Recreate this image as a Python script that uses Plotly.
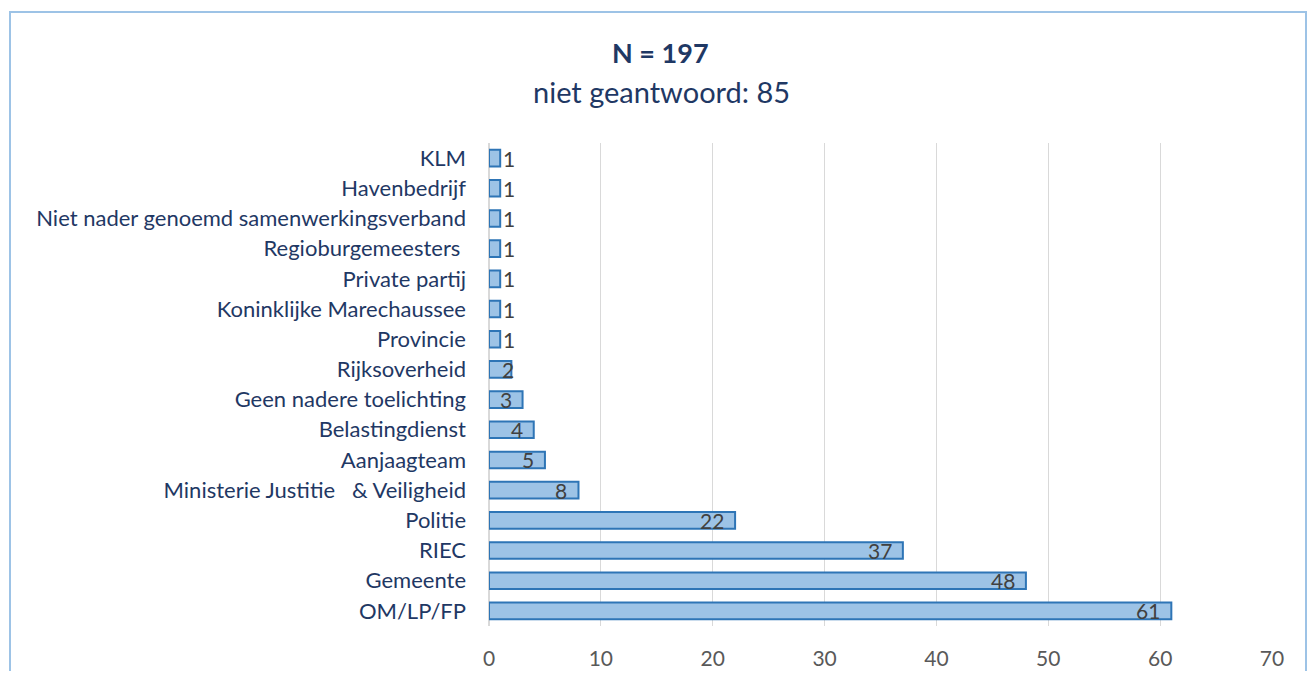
import plotly.graph_objects as go

categories = ["OM/LP/FP", "Gemeente", "RIEC", "Politie", "Ministerie Justitie   & Veiligheid",
              "Aanjaagteam", "Belastingdienst", "Geen nadere toelichting", "Rijksoverheid",
              "Provincie", "Koninklijke Marechaussee", "Private partij", "Regioburgemeesters ",
              "Niet nader genoemd samenwerkingsverband", "Havenbedrijf", "KLM"]
values = [61, 48, 37, 22, 8, 5, 4, 3, 2, 1, 1, 1, 1, 1, 1, 1]
title_main = "N = 197"
title_sub = "niet geantwoord: 85"
x_ticks = [0, 10, 20, 30, 40, 50, 60, 70]

FONT = "Lato"
OFF = 8  # page body margin
W, H = 1316 - 2 * OFF, 679 - 2 * OFF
L = 489 - OFF
T = 143 - OFF
R = W - (1272 - OFF)
B = H - (626 - OFF)
pw, ph = W - L - R, H - T - B

def px_x(p):
    return (p - OFF - L) / pw

def px_y(p):
    return 1 - (p - OFF - T) / ph

fig = go.Figure()
fig.add_trace(go.Bar(
    y=categories, x=values, orientation="h",
    marker=dict(color="#9DC3E6", line=dict(color="#2E75B6", width=2)),
    width=0.55, showlegend=False, hoverinfo="x+y",
))

for c, v in zip(categories, values):
    if v >= 3:
        fig.add_annotation(x=v, y=c, text=str(v), showarrow=False, xanchor="right", xshift=-9,
                           font=dict(family=FONT, size=21, color="#404040"))
    elif v == 2:
        fig.add_annotation(x=v, y=c, text=str(v), showarrow=False, xanchor="center", xshift=-3,
                           font=dict(family=FONT, size=21, color="#404040"))
    else:
        fig.add_annotation(x=v, y=c, text=str(v), showarrow=False, xanchor="left", xshift=1,
                           font=dict(family=FONT, size=21, color="#404040"))

fig.add_annotation(xref="paper", yref="paper", x=px_x(660), y=px_y(52), xanchor="center", yanchor="middle",
                   text="<b>" + title_main + "</b>",
                   showarrow=False, font=dict(family=FONT, size=27, color="#1F3864"))
fig.add_annotation(xref="paper", yref="paper", x=px_x(661), y=px_y(92), xanchor="center", yanchor="middle",
                   text=title_sub,
                   showarrow=False, font=dict(family=FONT, size=29, color="#1F3864"))

fig.add_shape(type="rect", xref="paper", yref="paper",
              x0=px_x(10), x1=px_x(1306), y0=px_y(700), y1=px_y(12),
              line=dict(color="#9DC3E6", width=2), fillcolor="rgba(0,0,0,0)", layer="below")

fig.update_layout(
    width=W, height=H,
    margin=dict(l=L, r=R, t=T, b=B, pad=0),
    paper_bgcolor="white", plot_bgcolor="white",
    xaxis=dict(range=[0, 70], tickvals=x_ticks, showgrid=True, gridcolor="#D9D9D9", gridwidth=1,
               zeroline=True, zerolinecolor="#D9D9D9", showline=False, ticks="", automargin=False,
               tickfont=dict(family=FONT, size=21, color="#595959"), ticklabelstandoff=18),
    yaxis=dict(showgrid=False, showline=False, ticks="", ticklabelstandoff=22, automargin=False,
               tickfont=dict(family=FONT, size=22, color="#1F3864"), range=[-0.5, 15.5]),
)

fig.write_html("out.html")
